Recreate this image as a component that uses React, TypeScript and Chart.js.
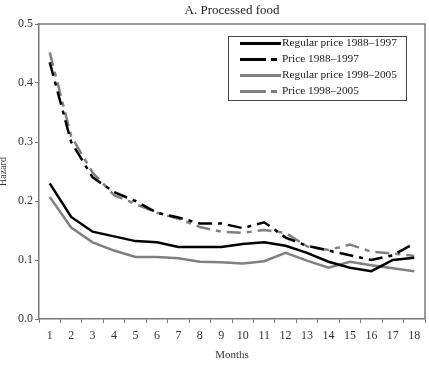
import React, { useEffect, useRef } from "react";
import { Chart, registerables } from "chart.js";

Chart.register(...registerables);

const months = ["1", "2", "3", "4", "5", "6", "7", "8", "9", "10", "11", "12", "13", "14", "15", "16", "17", "18"];
const regularPrice8897 = [0.23, 0.173, 0.148, 0.14, 0.132, 0.13, 0.122, 0.122, 0.122, 0.127, 0.13, 0.124, 0.112, 0.097, 0.087, 0.081, 0.1, 0.104];
const price8897 = [0.435, 0.3, 0.24, 0.215, 0.2, 0.18, 0.172, 0.162, 0.162, 0.154, 0.164, 0.138, 0.124, 0.116, 0.108, 0.1, 0.108, 0.128];
const regularPrice9805 = [0.207, 0.155, 0.13, 0.116, 0.105, 0.105, 0.103, 0.097, 0.096, 0.094, 0.098, 0.112, 0.099, 0.087, 0.097, 0.091, 0.086, 0.081];
const price9805 = [0.452, 0.31, 0.248, 0.21, 0.195, 0.18, 0.17, 0.156, 0.148, 0.146, 0.151, 0.146, 0.123, 0.117, 0.126, 0.114, 0.111, 0.107];
const seriesNames = ["Regular price 1988\u20131997", "Price 1988\u20131997", "Regular price 1998\u20132005", "Price 1998\u20132005"];
const chartTitle = "A. Processed food";
const xTitle = "Months";
const yTitle = "Hazard";

const FONT = "'Liberation Serif', 'Times New Roman', serif";
const AXIS = "#7a7a7a";
const TEXT = "#333333";
const GRAY = "#808080";

const legendDashes = [[], [26, 5, 6, 20], [], [26, 5, 6, 20]];

const framePlugin = {
  id: "frameAndLegend",
  afterDraw(chart: any) {
    const { ctx, chartArea } = chart;
    const { left, top, right, bottom } = chartArea;
    ctx.save();
    ctx.strokeStyle = AXIS;
    ctx.lineWidth = 1.5;
    ctx.beginPath();
    ctx.moveTo(left, top);
    ctx.lineTo(right, top);
    ctx.lineTo(right, bottom);
    ctx.stroke();

    ctx.fillStyle = "#222";
    ctx.font = `13px ${FONT}`;
    ctx.textAlign = "center";
    ctx.textBaseline = "middle";
    ctx.fillText(chartTitle, (left + right) / 2, top - 13);

    const bx = right - 197;
    const by = top + 12;
    const bw = 178;
    const bh = 64;
    ctx.fillStyle = "#fff";
    ctx.fillRect(bx, by, bw, bh);
    ctx.strokeStyle = "#444";
    ctx.lineWidth = 1;
    ctx.strokeRect(bx + 0.5, by + 0.5, bw, bh);
    chart.data.datasets.forEach((ds: any, i: number) => {
      const y = by + 7.5 + i * 16;
      ctx.strokeStyle = ds.borderColor;
      ctx.lineWidth = 3;
      ctx.setLineDash(legendDashes[i]);
      ctx.beginPath();
      ctx.moveTo(bx + 12, y);
      ctx.lineTo(bx + 53, y);
      ctx.stroke();
      ctx.setLineDash([]);
      ctx.fillStyle = "#222";
      ctx.font = `11.3px ${FONT}`;
      ctx.textAlign = "left";
      ctx.textBaseline = "middle";
      ctx.fillText(ds.label, bx + 54, y);
    });
    ctx.restore();
  },
};

export default function App() {
  const ref = useRef<HTMLCanvasElement | null>(null);
  useEffect(() => {
    document.body.style.margin = "0";
    const canvas = ref.current;
    if (!canvas) return;
    const chart = new Chart(canvas, {
      type: "line",
      data: {
        labels: months,
        datasets: [
          { label: seriesNames[0], data: regularPrice8897, borderColor: "#000", borderWidth: 2.5, pointRadius: 0, tension: 0 },
          { label: seriesNames[1], data: price8897, borderColor: "#000", borderWidth: 2.5, borderDash: [14, 6, 4, 6], pointRadius: 0, tension: 0 },
          { label: seriesNames[2], data: regularPrice9805, borderColor: GRAY, borderWidth: 2.5, pointRadius: 0, tension: 0 },
          { label: seriesNames[3], data: price9805, borderColor: GRAY, borderWidth: 2.5, borderDash: [14, 6, 5, 6], pointRadius: 0, tension: 0 },
        ],
      },
      options: {
        responsive: false,
        animation: false,
        layout: { padding: { top: 24, right: 4, left: 0, bottom: 0 } },
        plugins: {
          legend: { display: false },
          tooltip: { enabled: false },
          title: { display: false },
        },
        scales: {
          x: {
            type: "category",
            offset: true,
            afterFit: (s: any) => { s.height = 48; },
            grid: { display: true, drawOnChartArea: false, drawTicks: true, tickLength: 4, offset: true, color: AXIS, lineWidth: 1 },
            border: { display: true, color: AXIS, width: 1.5 },
            ticks: { color: TEXT, font: { family: FONT, size: 12 }, padding: 6, maxRotation: 0, autoSkip: false },
            title: { display: true, text: xTitle, color: TEXT, font: { family: FONT, size: 11 }, padding: { top: 0, bottom: 5 } },
          },
          y: {
            min: 0,
            max: 0.5,
            afterFit: (s: any) => { s.width = 39; },
            grid: { display: true, drawOnChartArea: false, drawTicks: true, tickLength: 4, color: AXIS, lineWidth: 1 },
            border: { display: true, color: AXIS, width: 1.5 },
            ticks: { stepSize: 0.1, color: TEXT, font: { family: FONT, size: 12 }, padding: 2, callback: (v: any) => Number(v).toFixed(1) },
            title: { display: true, text: yTitle, color: TEXT, font: { family: FONT, size: 10 }, padding: { top: -3, bottom: 0 } },
          },
        },
      },
      plugins: [framePlugin],
    });
    return () => chart.destroy();
  }, []);
  return (
    <div style={{ width: 429, height: 367 }}>
      <canvas ref={ref} width={429} height={367} />
    </div>
  );
}
